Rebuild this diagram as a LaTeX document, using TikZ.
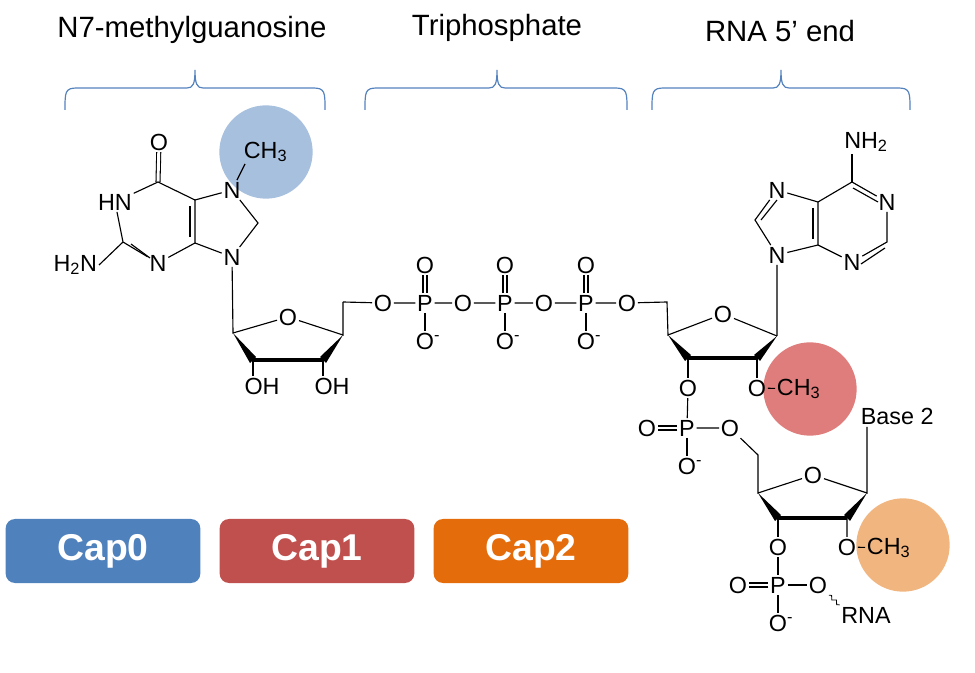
\documentclass[tikz,border=0pt]{standalone}
\usepackage{fontspec}
\setmainfont{Liberation Sans}
\usetikzlibrary{calc,decorations.pathmorphing}
\definecolor{capblue}{RGB}{79,129,189}
\definecolor{capred}{RGB}{192,80,77}
\definecolor{caporange}{RGB}{228,108,10}
\definecolor{dotblue}{RGB}{167,192,222}
\definecolor{dotred}{RGB}{223,125,124}
\definecolor{dotorange}{RGB}{241,181,128}
\definecolor{bracecol}{RGB}{84,130,190}
\newcommand{\Ominus}{O\rlap{\textsuperscript{-}}}
\newcommand{\methyl}{CH\textsubscript{3}}
% curly brace over a span: left end, tip, right end (px)
\newcommand{\grpbrace}[3]{%
	\draw[grp] (#1,110) .. controls (#1,92) and (#1,88) .. (#1+12,88) -- (#2-8,88)
		.. controls (#2-2,88) and (#2,84) .. (#2,70)
		.. controls (#2,84) and (#2+2,88) .. (#2+8,88) -- (#3-12,88)
		.. controls (#3,88) and (#3,92) .. (#3,110);}

\begin{document}
\begin{tikzpicture}
[x=0.75pt, y=-0.75pt, line width=0.85pt,
atom/.style={inner sep=1pt, font=\fontsize{17.5}{19}\selectfont},
head/.style={font=\fontsize{22}{24}\selectfont},
capbox/.style={rounded corners=7pt, minimum width=146pt, minimum height=48pt,
	text=white, font=\fontsize{28}{30}\selectfont\bfseries},
dot/.style={circle, minimum size=70pt, inner sep=0pt},
grp/.style={draw=bracecol, line width=0.9pt},
dbl/.style={double, double distance=2.2pt, line width=0.8pt},
]
\useasboundingbox (0,0) rectangle (975,673);

% highlight circles
\node[dot, fill=dotblue] (c0) at (266,152) {};
\node[dot, fill=dotred] (c1) at (810,389) {};
\node[dot, fill=dotorange] (c2) at (903,545) {};

% headings and braces
\node[head] (h0) at (192,30) {N7-methylguanosine};
\node[head] (h1) at (497,28) {Triphosphate};
\node[head] (h2) at (780,31) {RNA 5’ end};
\grpbrace{65}{195}{325}
\grpbrace{365}{497}{627}
\grpbrace{652}{781}{910}

% cap boxes
\node[capbox, fill=capblue] (cap0) at (103,551) {Cap0};
\node[capbox, fill=capred] (cap1) at (317,551) {Cap1};
\node[capbox, fill=caporange] (cap2) at (531,551) {Cap2};

% guanine
\node[atom] (gO) at (159,142) {O};
\coordinate (gC6) at (158,182);
\node[atom] (gN1) at (115,202) {HN};
\coordinate (gC2) at (123,242);
\node[atom, anchor=east] (gNH2) at (99,265) {H\textsubscript{2}N};
\node[atom] (gN3) at (158,263) {N};
\coordinate (gC4) at (195,243);
\coordinate (gC5) at (195,200);
\node[atom] (gN7) at (232,190) {N};
\coordinate (gC8) at (258,223);
\node[atom] (gN9) at (232,257) {N};
\node[atom, anchor=west] (gMe) at (242,152) {\methyl};
\draw[dbl] (gC6) -- (gO);
\draw (gC6) -- (gN1) -- (gC2) -- (gN3) -- (gC4) -- (gC5) -- (gC6);
\draw ($(gC2)+(8,2)$) -- ($(gN3)+(-8,-5)$);
\draw ($(gC4)+(-5,-6)$) -- ($(gC5)+(-5,6)$);
\draw (gC2) -- (gNH2.east);
\draw (gC5) -- (gN7) -- (gC8) -- (gN9) -- (gC4);
\draw (gN7) -- (245,164);

% guanosine ribose
\coordinate (gS1) at (233,333);
\node[atom] (gS0) at (288,317) {O};
\coordinate (gS4) at (343,335);
\coordinate (gS3) at (323,360);
\coordinate (gS2) at (253,360);
\coordinate (gS5) at (343,302);
\node[atom] (gOH2) at (262,386) {OH};
\node[atom] (gOH3) at (332,386) {OH};
\draw (gN9) -- (gS1) -- (gS0) -- (gS4) -- (gS5);
\fill (gS1) -- ($(gS2)+(3,-3)$) -- ($(gS2)+(-3,3)$) -- cycle;
\fill (gS4) -- ($(gS3)+(3,3)$) -- ($(gS3)+(-3,-3)$) -- cycle;
\draw[line width=3pt] (gS2) -- (gS3);
\draw (gS2) -- (gS2 |- gOH2.north);
\draw (gS3) -- (gS3 |- gOH3.north);

% triphosphate
\node[atom] (pO1) at (383,303) {O};
\node[atom] (pP1) at (425,303) {P};
\node[atom] (pO2) at (463,303) {O};
\node[atom] (pP2) at (505,303) {P};
\node[atom] (pO3) at (544,303) {O};
\node[atom] (pP3) at (586,303) {P};
\node[atom] (pO4) at (627,303) {O};
\foreach \p in {1,2,3} {
	\node[atom] (pT\p) at ($(pP\p)+(0,-38)$) {O};
	\node[atom] (pB\p) at ($(pP\p)+(0,38)$) {\Ominus};
	\draw[dbl] (pP\p) -- (pT\p);
	\draw (pP\p) -- (pB\p);
}
\draw (gS5) -- (pO1) -- (pP1) -- (pO2) -- (pP2) -- (pO3) -- (pP3) -- (pO4);

% adenosine ribose
\coordinate (aS5) at (667,302);
\coordinate (aS4) at (668,335);
\node[atom] (aS0) at (723,314) {O};
\coordinate (aS1) at (777,336);
\coordinate (aS3) at (688,358);
\coordinate (aS2) at (757,358);
\node[atom] (aO3) at (688,388) {O};
\node[atom] (aO2) at (757,388) {O};
\node[atom, anchor=west] (aMe) at (775,389) {\methyl};
\draw (pO4) -- (aS5) -- (aS4) -- (aS0) -- (aS1);
\fill (aS4) -- ($(aS3)+(3,-3)$) -- ($(aS3)+(-3,3)$) -- cycle;
\fill (aS1) -- ($(aS2)+(3,3)$) -- ($(aS2)+(-3,-3)$) -- cycle;
\draw[line width=3pt] (aS3) -- (aS2);
\draw (aS3) -- (aO3);
\draw (aS2) -- (aO2);
\draw (aO2) -- (aMe);

% adenine
\node[atom] (aN9) at (777,255) {N};
\coordinate (aC8) at (755,220);
\node[atom] (aN7) at (777,190) {N};
\coordinate (aC5) at (818,202);
\coordinate (aC4) at (818,245);
\node[atom] (aN3) at (852,262) {N};
\coordinate (aC2) at (887,242);
\node[atom] (aN1) at (887,202) {N};
\coordinate (aC6) at (852,182);
\node[atom] (aNH2) at (866,142) {NH\textsubscript{2}};
\draw (aS1) -- (aN9) -- (aC8) -- (aN7) -- (aC5) -- (aC4) -- (aN9);
\draw ($(aC8)+(6,0)$) -- ($(aN7)+(0,10)$);
\draw ($(aC5)+(-5,6)$) -- ($(aC4)+(-5,-6)$);
\draw (aC5) -- (aC6) -- (aN1) -- (aC2) -- (aN3) -- (aC4);
\draw ($(aC6)+(1,6)$) -- ($(aN1)+(-9,0)$);
\draw ($(aC2)+(-2,6)$) -- ($(aN3)+(9,2)$);
\draw (aC6) -- (aC6 |- aNH2.south);

% first linking phosphate
\node[atom] (qP1) at (687,428) {P};
\node[atom] (qT1) at (647,428) {O};
\node[atom] (qR1) at (730,428) {O};
\node[atom] (qB1) at (687,466) {\Ominus};
\draw (aO3) -- (qP1) -- (qR1);
\draw[dbl] (qP1) -- (qT1);
\draw (qP1) -- (qB1);

% second ribose
\coordinate (bS5) at (758,455);
\coordinate (bS4) at (758,493);
\node[atom] (bS0) at (813,475) {O};
\coordinate (bS1) at (867,493);
\coordinate (bS3) at (778,518);
\coordinate (bS2) at (847,518);
\node[atom] (bO3) at (778,547) {O};
\node[atom] (bO2) at (847,547) {O};
\node[atom, anchor=west] (bMe) at (865,548) {\methyl};
\node[atom, anchor=south west] (base) at (859,427) {Base 2};
\draw (qR1) -- (bS5) -- (bS4) -- (bS0) -- (bS1) -- (bS1 |- base.south);
\fill (bS4) -- ($(bS3)+(3,-3)$) -- ($(bS3)+(-3,3)$) -- cycle;
\fill (bS1) -- ($(bS2)+(3,3)$) -- ($(bS2)+(-3,-3)$) -- cycle;
\draw[line width=3pt] (bS3) -- (bS2);
\draw (bS3) -- (bO3);
\draw (bS2) -- (bO2) -- (bMe);

% second linking phosphate
\node[atom] (qP2) at (778,585) {P};
\node[atom] (qT2) at (738,585) {O};
\node[atom] (qR2) at (818,585) {O};
\node[atom] (qB2) at (778,623) {\Ominus};
\node[atom] (rna) at (866,615) {RNA};
\draw (bO3) -- (qP2) -- (qR2);
\draw[dbl] (qP2) -- (qT2);
\draw (qP2) -- (qB2);
\draw[line width=0.6pt, decorate, decoration={snake, amplitude=1.2pt, segment length=5pt}]
	(qR2.south east) -- (rna.north west);
\end{tikzpicture}
\end{document}
